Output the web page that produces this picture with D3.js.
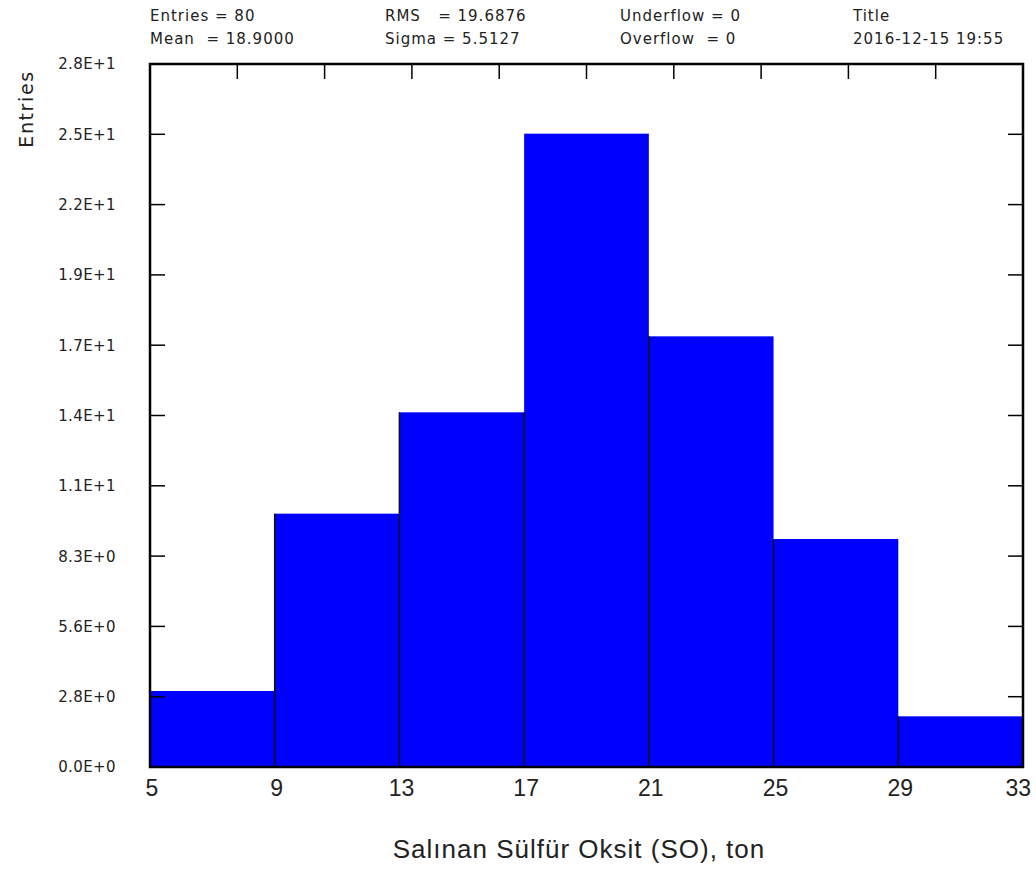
<!doctype html>
<html lang="en">
  <head>
    <meta charset="utf-8">
    <script src="https://d3js.org/d3.v7.min.js"></script>
    <title>Histogram</title>
    <style>
      body { margin: 0; background: #fff; }
      text { fill: #222; }
    </style>
  </head>
  <body>
<div id="my_dataviz"></div>

<script>
    // histogram data
    var binEdges = [5, 9, 13, 17, 21, 25, 29, 33];
    var counts = [3, 10, 14, 25, 17, 9, 2];
    var yMax = 27.75;
    var yTickLabels = ["0.0E+0", "2.8E+0", "5.6E+0", "8.3E+0", "1.1E+1", "1.4E+1",
                       "1.7E+1", "1.9E+1", "2.2E+1", "2.5E+1", "2.8E+1"];
    var xTickLabels = ["5", "9", "13", "17", "21", "25", "29", "33"];

    // stats box text (columns, two rows)
    var statsTop = ["Entries = 80", "RMS   = 19.6876", "Underflow = 0", "Title"];
    var statsBottom = ["Mean  = 18.9000", "Sigma = 5.5127", "Overflow  = 0", "2016-12-15 19:55"];

    var xLabel = "Salınan Sülfür Oksit (SO), ton";
    var yLabel = "Entries";

    // set the dimensions and margins of the graph
    var margin = {top: 64, right: 13, bottom: 105, left: 150},
        width = 1036 - margin.left - margin.right,
        height = 872 - margin.top - margin.bottom;

    var svgRoot = d3.select("#my_dataviz")
      .append("svg")
        .attr("width", 1036)
        .attr("height", 872);

    var svg = svgRoot.append("g")
        .attr("transform", "translate(" + margin.left + "," + margin.top + ")");

    var x = d3.scaleLinear()
      .domain([binEdges[0], binEdges[binEdges.length - 1]])
      .range([0, width]);

    var y = d3.scaleLinear()
      .domain([0, yMax])
      .range([height, 0]);

    var yTicks = yTickLabels.map(function(d, i) { return i * yMax / (yTickLabels.length - 1); });
    var topTicks = d3.range(0, 11).map(function(k) { return x.domain()[0] + k * (x.domain()[1] - x.domain()[0]) / 10; });

    // small bottom ticks (mostly hidden by the bars)
    svg.selectAll(".btick")
      .data(topTicks)
      .enter().append("line")
        .attr("x1", function(d) { return x(d); })
        .attr("x2", function(d) { return x(d); })
        .attr("y1", height)
        .attr("y2", height - 3)
        .attr("stroke", "#000")
        .attr("stroke-width", 1.5);

    // Bars
    var bins = counts.map(function(c, i) { return {x0: binEdges[i], x1: binEdges[i + 1], n: c}; });
    svg.selectAll(".bar")
      .data(bins)
      .enter()
      .append("rect")
        .attr("x", function(d) { return x(d.x0); })
        .attr("y", function(d) { return y(d.n); })
        .attr("width", function(d) { return x(d.x1) - x(d.x0); })
        .attr("height", function(d) { return height - y(d.n); })
        .attr("fill", "#0000ff");

    // dark separators between neighbouring bars
    var seps = binEdges.slice(1, -1).map(function(e, i) {
      var a = counts[i], b = counts[i + 1];
      // first two edges run up to the taller bar, the rest to the lower one
      return {x: e, n: i < 2 ? Math.max(a, b) : Math.min(a, b)};
    });
    svg.selectAll(".sep")
      .data(seps)
      .enter().append("line")
        .attr("x1", function(d) { return x(d.x); })
        .attr("x2", function(d) { return x(d.x); })
        .attr("y1", height)
        .attr("y2", function(d) { return y(d.n); })
        .attr("stroke", "#111")
        .attr("stroke-width", 1.6);

    // left / right ticks
    svg.selectAll(".ltick")
      .data(yTicks)
      .enter().append("line")
        .attr("x1", 0).attr("x2", 15)
        .attr("y1", function(d) { return y(d); })
        .attr("y2", function(d) { return y(d); })
        .attr("stroke", "#000")
        .attr("stroke-width", 1.5);
    svg.selectAll(".rtick")
      .data(yTicks)
      .enter().append("line")
        .attr("x1", width - 15).attr("x2", width)
        .attr("y1", function(d) { return y(d); })
        .attr("y2", function(d) { return y(d); })
        .attr("stroke", "#000")
        .attr("stroke-width", 1.5);

    // top ticks
    svg.selectAll(".ttick")
      .data(topTicks)
      .enter().append("line")
        .attr("x1", function(d) { return x(d); })
        .attr("x2", function(d) { return x(d); })
        .attr("y1", 0)
        .attr("y2", 15)
        .attr("stroke", "#000")
        .attr("stroke-width", 1.5);

    // frame
    svg.append("rect")
      .attr("x", 0).attr("y", 0)
      .attr("width", width).attr("height", height)
      .attr("fill", "none")
      .attr("stroke", "#000")
      .attr("stroke-width", 2.5);

    // Y tick labels
    svg.selectAll(".ylab")
      .data(yTicks)
      .enter().append("text")
        .attr("x", -34)
        .attr("y", function(d) { return y(d); })
        .attr("dy", "0.36em")
        .attr("text-anchor", "end")
        .style("font-family", "DejaVu Sans")
        .style("font-size", "15px")
        .style("letter-spacing", "0.4px")
        .text(function(d, i) { return yTickLabels[i]; });

    // X tick labels (last one kept inside the page)
    var lastEdge = binEdges[binEdges.length - 1];
    svg.selectAll(".xlab")
      .data(binEdges)
      .enter().append("text")
        .attr("x", function(d) { return d === lastEdge ? x(d) + 8 : x(d) + 2; })
        .attr("y", height + 29)
        .attr("text-anchor", function(d) { return d === lastEdge ? "end" : "middle"; })
        .style("font-family", "Liberation Sans")
        .style("font-size", "23px")
        .text(function(d, i) { return xTickLabels[i]; });

    // axis titles
    svgRoot.append("text")
      .attr("x", 579)
      .attr("y", 858)
      .attr("text-anchor", "middle")
      .style("font-family", "Liberation Sans")
      .style("font-size", "26px")
      .style("letter-spacing", "1px")
      .text(xLabel);

    svgRoot.append("text")
      .attr("transform", "translate(33,109) rotate(-90)")
      .attr("text-anchor", "middle")
      .style("font-family", "DejaVu Sans")
      .style("font-size", "19px")
      .style("letter-spacing", "1.6px")
      .text(yLabel);

    // stats header
    var colX = [150, 385, 620, 853];
    [statsTop, statsBottom].forEach(function(row, r) {
      svgRoot.selectAll(".stat" + r)
        .data(row)
        .enter().append("text")
          .attr("x", function(d, i) { return colX[i]; })
          .attr("y", r === 0 ? 21 : 44)
          .style("font-family", "DejaVu Sans")
          .style("font-size", "15px")
          .style("letter-spacing", "1px")
          .style("white-space", "pre")
          .text(function(d) { return d; });
    });
</script>
</body>
</html>
